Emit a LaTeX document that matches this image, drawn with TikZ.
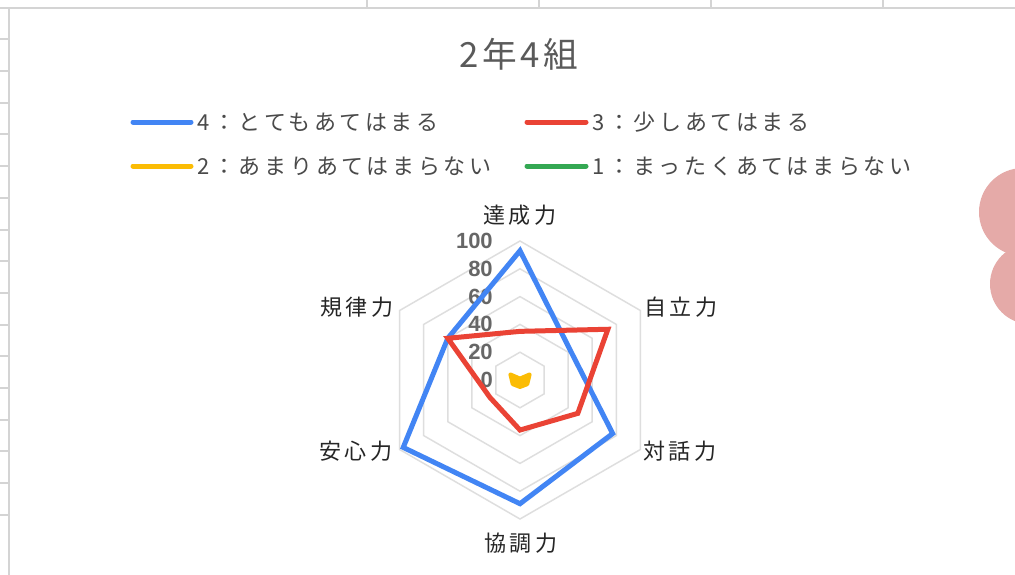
\documentclass[tikz,border=0pt]{standalone}
\usepackage{fontspec}
\setmainfont{Noto Sans CJK JP}
\newfontfamily\jpwide[LetterSpace=17]{Noto Sans CJK JP}
\newfontfamily\jptitle[LetterSpace=10]{Noto Sans CJK JP}
\newfontfamily\numfont{Liberation Sans}
\definecolor{gblue}{HTML}{4285F4}
\definecolor{gred}{HTML}{EA4335}
\definecolor{gyellow}{HTML}{FBBC04}
\definecolor{ggreen}{HTML}{34A853}
\definecolor{ringgray}{HTML}{DEDEDE}
\definecolor{sheetgray}{HTML}{D4D4D4}
\definecolor{titlegray}{HTML}{5A5A5A}
\definecolor{legendgray}{HTML}{4A4A4A}
\definecolor{axisgray}{HTML}{262626}
\definecolor{scalegray}{HTML}{666666}
\definecolor{blobpink}{HTML}{E5AAA8}
\tikzset{
  gridline/.style={draw=ringgray, line width=1.1pt},
  sheetline/.style={draw=sheetgray, line width=1.5pt},
  series/.style={line width=3.75pt},
  swatch/.style={line width=3.75pt, line cap=round},
  axislabel/.style={font=\jpwide\fontsize{16.5}{20}\selectfont, text=axisgray, inner sep=0pt},
  legendtext/.style={font=\jpwide\fontsize{16.5}{20}\selectfont, text=legendgray, inner sep=0pt, anchor=west},
  scalelabel/.style={font=\numfont\bfseries\fontsize{16.5}{18}\selectfont, text=scalegray, inner sep=0pt, anchor=east}
}
\begin{document}
\begin{tikzpicture}[x=0.75pt, y=-0.75pt]
	%%%%% START %%%%%
	
	\useasboundingbox (0, 0) rectangle (1015, 575);
	\clip (0, 0) rectangle (1015, 575);
	\fill[white] (0, 0) rectangle (1015, 575);
	
	% sheet cells behind the chart
	\foreach \cx in {367, 539, 711, 883}
		\draw[sheetline] (\cx, 0) -- (\cx, 8);
	\foreach \cy in {0, ..., 15}
		\draw[sheetline] (0, {39.3+31.7*\cy}) -- (9, {39.3+31.7*\cy});
	\draw[sheetline] (0, 8) -- (1015, 8);
	\draw[sheetline] (9, 8) -- (9, 575);
	
	\fill[blobpink] (1023, 212) circle (44);
	\fill[blobpink] (1030, 284) circle (40);
	
	\node[font=\jptitle\fontsize{26}{30}\selectfont, text=titlegray, inner sep=0pt] (title) at (519, 54) {2年4組};
	
	% legend
	\draw[swatch, gblue] (133, 122) -- (191, 122);
	\node[legendtext] (leg4) at (197, 122) {4：とてもあてはまる};
	\draw[swatch, gred] (527, 122) -- (586, 122);
	\node[legendtext] (leg3) at (592, 122) {3：少しあてはまる};
	\draw[swatch, gyellow] (133, 166) -- (191, 166);
	\node[legendtext] (leg2) at (197, 166) {2：あまりあてはまらない};
	\draw[swatch, ggreen] (527, 166) -- (586, 166);
	\node[legendtext] (leg1) at (592, 166) {1：まったくあてはまらない};
	
	% radar
	\begin{scope}[shift={(520, 380)}, y=0.75pt]
		\foreach \r in {20, 40, ..., 100}
			\draw[gridline] (90:1.39*\r) -- (30:1.39*\r) -- (-30:1.39*\r) -- (-90:1.39*\r) -- (-150:1.39*\r) -- (150:1.39*\r) -- cycle;
	\end{scope}
	
	\foreach \v in {0, 20, ..., 100}
		\node[scalelabel] (s\v) at (493, {380-1.39*\v}) {\v};
	
	\begin{scope}[shift={(520, 380)}, y=0.75pt]
		\draw[series, gblue] (90:1.39*93) -- (30:1.39*42) -- (-30:1.39*77) -- (-90:1.39*89) -- (-150:1.39*97) -- (150:1.39*60) -- cycle;
		\draw[series, gred] (90:1.39*35) -- (30:1.39*73) -- (-30:1.39*48) -- (-90:1.39*36) -- (-150:1.39*25) -- (150:1.39*60) -- cycle;
		\draw[series, gyellow, fill=gyellow, line width=3pt, line join=round] (90:1.39*1) -- (30:1.39*8) -- (-30:1.39*6) -- (-90:1.39*5) -- (-150:1.39*6) -- (150:1.39*8) -- cycle;
	\end{scope}
	
	\node[axislabel] (tassei) at (520, 215) {達成力};
	\node[axislabel, anchor=west] (jiritsu) at (644, 307) {自立力};
	\node[axislabel, anchor=west] (taiwa) at (643, 451) {対話力};
	\node[axislabel] (kyouchou) at (521, 543) {協調力};
	\node[axislabel, anchor=east] (anshin) at (393, 451) {安心力};
	\node[axislabel, anchor=east] (kiritsu) at (394, 307) {規律力};
	
	%%%%% END %%%%%
\end{tikzpicture}
\end{document}
